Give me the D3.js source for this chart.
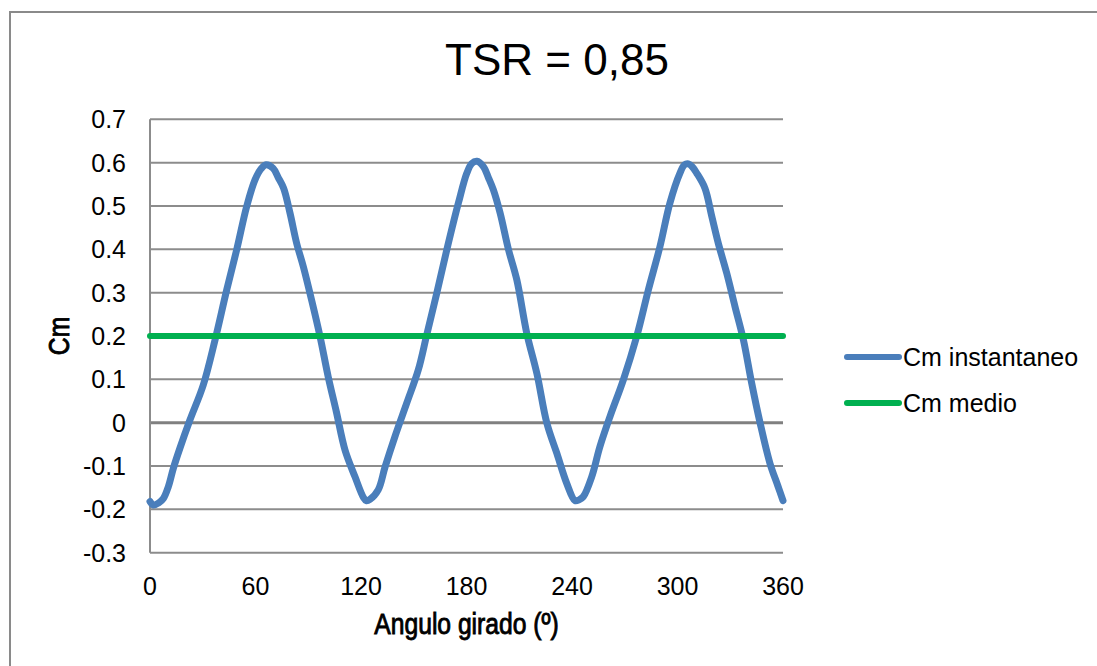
<!DOCTYPE html>
<html>
<head>
<meta charset="utf-8">
<script src="https://cdn.jsdelivr.net/npm/d3@7"></script>
<style>
  html, body { margin: 0; padding: 0; background: #fff; }
  svg { display: block; }
  .tick-label { font-family: "Liberation Sans", Arial, sans-serif; font-size: 25px; fill: #000; }
  .axis-title { font-family: "Liberation Sans", Arial, sans-serif; font-size: 29px; fill: #000; stroke: #000; stroke-width: 0.9px; }
</style>
</head>
<body>
<svg id="chart" width="1097" height="666"></svg>
<script>
// Rotor torque coefficient over one revolution
const angle = [0, 2, 5, 7.6, 10.4, 13.3, 17, 22.7, 30.3, 37, 43.6, 49.3, 55, 59.7, 63, 66, 70, 73, 76, 79.6,
  83.4, 87.2, 91.9, 96.7, 101.4, 106, 110.9, 116.6, 121.3, 123, 125.1, 129.8, 133.7, 139.3, 146, 152.6,
  157.4, 163.1, 168.8, 175.4, 180.2, 183, 185.9, 189.6, 192.5, 195.3, 199.1, 203.9, 208.6, 214.3, 220,
  225.7, 231.4, 237, 241.7, 244, 246.4, 251.2, 255.9, 261.6, 269.2, 276.8, 283.4, 290, 295.7, 301.4,
  304, 306.2, 308.5, 310.9, 315.6, 319.5, 323.2, 328, 332.7, 337.5, 342.2, 347, 352.6, 357, 360];
const cmInstantaneo = [-0.182, -0.19, -0.185, -0.175, -0.148, -0.105, -0.059, 0.006, 0.087, 0.191, 0.306,
  0.399, 0.499, 0.56, 0.585, 0.595, 0.587, 0.565, 0.541, 0.484, 0.414, 0.36, 0.283, 0.199, 0.105, 0.025,
  -0.063, -0.125, -0.172, -0.18, -0.177, -0.155, -0.102, -0.032, 0.045, 0.122, 0.203, 0.299, 0.399,
  0.507, 0.576, 0.598, 0.603, 0.591, 0.565, 0.537, 0.484, 0.399, 0.33, 0.206, 0.114, -0.001, -0.071,
  -0.14, -0.18, -0.178, -0.171, -0.125, -0.055, 0.014, 0.099, 0.199, 0.306, 0.406, 0.507, 0.576, 0.595,
  0.597, 0.59, 0.576, 0.541, 0.476, 0.414, 0.345, 0.268, 0.191, 0.091, -0.001, -0.094, -0.145, -0.18];
const cmMedio = 0.2;

const xTicks = [0, 60, 120, 180, 240, 300, 360];
const yTicks = [-0.3, -0.2, -0.1, 0, 0.1, 0.2, 0.3, 0.4, 0.5, 0.6, 0.7];
const seriesNames = ["Cm instantaneo", "Cm medio"];
const seriesColors = ["#4a7ebb", "#00b050"];
const titleText = "TSR = 0,85";
const xTitle = "Angulo girado (º)";
const yTitle = "Cm";

const svg = d3.select("#chart");
const plot = { left: 150, right: 783, top: 119.3, bottom: 552.7 };

const x = d3.scaleLinear().domain([0, 360]).range([plot.left, plot.right]);
const y = d3.scaleLinear().domain([-0.3, 0.7]).range([plot.bottom, plot.top]);

// Plain decimal labels with an ASCII hyphen for negatives
const fmtY = d => (d === 0 ? "0" : d.toFixed(1));

// Chart frame
svg.append("path")
  .attr("d", `M10,700 L10,12 L1120,12`)
  .attr("fill", "none")
  .attr("stroke", "#8a8a8a")
  .attr("stroke-width", 2);

// Title
svg.append("text")
  .attr("x", 557).attr("y", 75)
  .attr("text-anchor", "middle")
  .style("font-family", "'Liberation Sans', Arial, sans-serif")
  .style("font-size", "44px")
  .text(titleText);

// Horizontal gridlines
svg.append("g").selectAll("line")
  .data(yTicks)
  .join("line")
  .attr("x1", plot.left).attr("x2", plot.right)
  .attr("y1", d => y(d)).attr("y2", d => y(d))
  .attr("stroke", d => d === 0 ? "#808080" : "#8c8c8c")
  .attr("stroke-width", d => d === 0 ? 3 : 2);

// Vertical axis line
svg.append("line")
  .attr("x1", plot.left).attr("x2", plot.left)
  .attr("y1", plot.top).attr("y2", plot.bottom)
  .attr("stroke", "#8c8c8c").attr("stroke-width", 2);

// Y tick labels
svg.append("g").selectAll("text")
  .data(yTicks)
  .join("text")
  .attr("class", "tick-label")
  .attr("x", 126)
  .attr("y", d => y(d))
  .attr("dy", "0.36em")
  .attr("text-anchor", "end")
  .text(fmtY);

// X tick labels
svg.append("g").selectAll("text")
  .data(xTicks)
  .join("text")
  .attr("class", "tick-label")
  .attr("x", d => x(d))
  .attr("y", 595)
  .attr("text-anchor", "middle")
  .text(d => d);

// Axis titles (condensed by a horizontal squeeze)
svg.append("text")
  .attr("class", "axis-title")
  .attr("transform", `translate(${x(180)},634) scale(0.85,1)`)
  .attr("text-anchor", "middle")
  .text(xTitle);

svg.append("text")
  .attr("class", "axis-title")
  .attr("transform", `translate(69,${(plot.top + plot.bottom) / 2}) rotate(-90) scale(0.85,1)`)
  .attr("text-anchor", "middle")
  .text(yTitle);

// Instantaneous torque coefficient
const line = d3.line()
  .x((d, i) => x(angle[i]))
  .y(d => y(d))
  .curve(d3.curveCatmullRom.alpha(0.5));

svg.append("path")
  .datum(cmInstantaneo)
  .attr("d", line)
  .attr("fill", "none")
  .attr("stroke", seriesColors[0])
  .attr("stroke-width", 7)
  .attr("stroke-linejoin", "round")
  .attr("stroke-linecap", "round");

// Mean torque coefficient
svg.append("line")
  .attr("x1", x(0)).attr("x2", x(360))
  .attr("y1", y(cmMedio)).attr("y2", y(cmMedio))
  .attr("stroke", seriesColors[1])
  .attr("stroke-width", 6)
  .attr("stroke-linecap", "round");

// Legend
const legend = svg.append("g");
const legendY = [357, 403];
seriesNames.forEach((name, i) => {
  legend.append("line")
    .attr("x1", 847).attr("x2", 899)
    .attr("y1", legendY[i]).attr("y2", legendY[i])
    .attr("stroke", seriesColors[i])
    .attr("stroke-width", 6)
    .attr("stroke-linecap", "round");
  legend.append("text")
    .attr("class", "tick-label")
    .attr("x", 903)
    .attr("y", legendY[i])
    .attr("dy", "0.36em")
    .text(name);
});
</script>
</body>
</html>
